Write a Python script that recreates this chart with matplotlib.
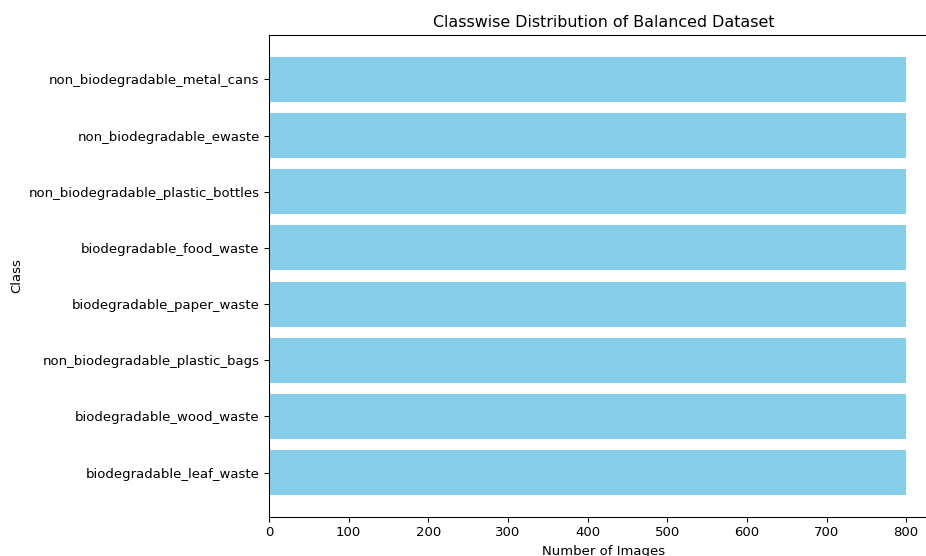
import matplotlib
matplotlib.use("Agg")
import matplotlib.pyplot as plt

classes = [
    "biodegradable_leaf_waste",
    "biodegradable_wood_waste",
    "non_biodegradable_plastic_bags",
    "biodegradable_paper_waste",
    "biodegradable_food_waste",
    "non_biodegradable_plastic_bottles",
    "non_biodegradable_ewaste",
    "non_biodegradable_metal_cans",
]
counts = [800, 800, 800, 800, 800, 800, 800, 800]

DPI = 95.3
fig = plt.figure(figsize=(926 / DPI, 556 / DPI), dpi=DPI)
ax = fig.add_axes([269/926, 39/556, 669/926, 482/556])
ax.barh(classes, counts, color="skyblue")
ax.set_title("Classwise Distribution of Balanced Dataset")
ax.set_xlabel("Number of Images")
ax.set_ylabel("Class")
fig.savefig("out.png", dpi=DPI)
